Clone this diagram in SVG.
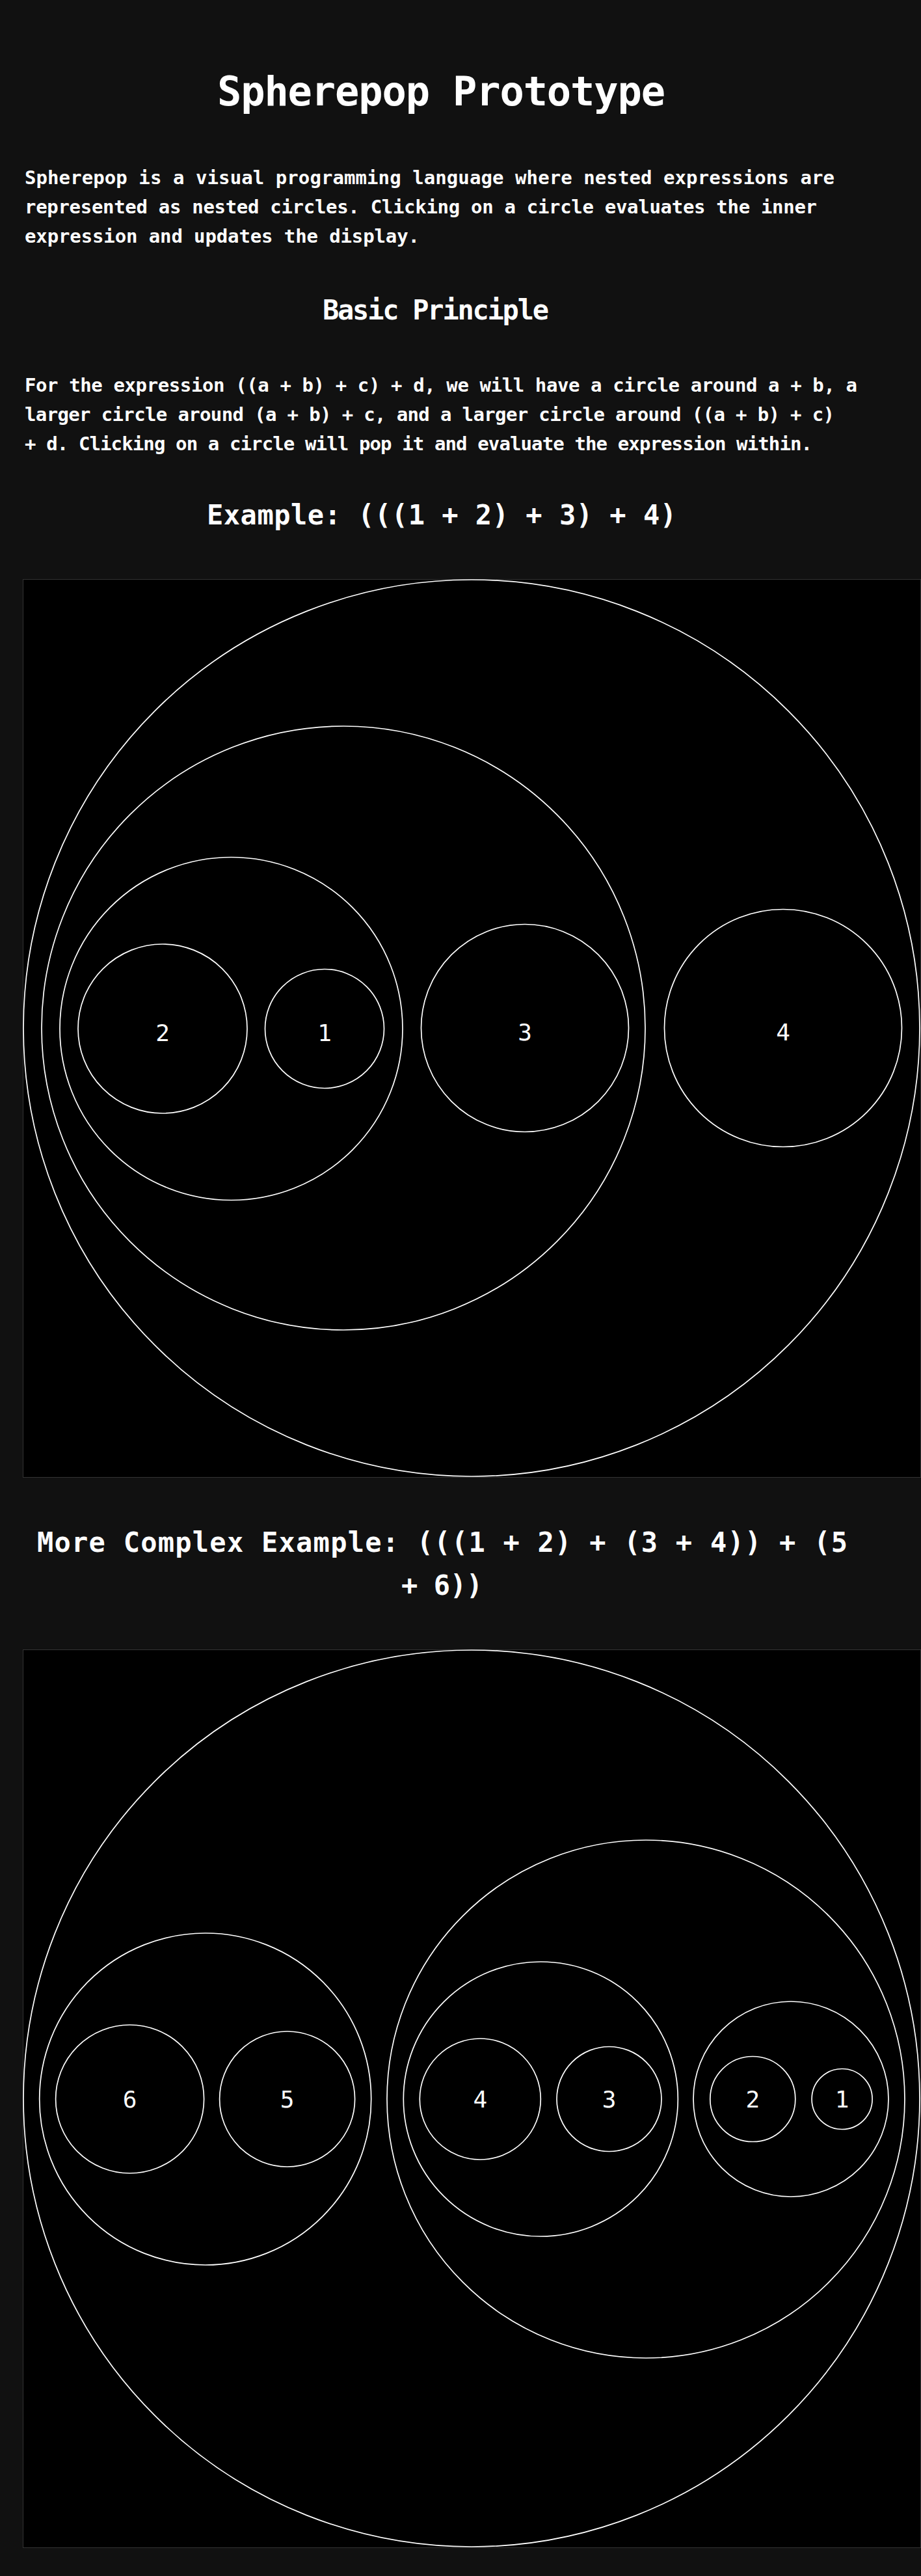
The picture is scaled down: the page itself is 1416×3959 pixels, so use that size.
<svg xmlns="http://www.w3.org/2000/svg" width="1416" height="3959" viewBox="0 0 1416 3959">
<style>
.t{font-family:"DejaVu Sans Mono","Liberation Mono",monospace;fill:#fff}
.h1{font-size:62px;font-weight:bold}
.h2{font-size:42px;font-weight:bold}
.p{font-size:29px;font-weight:bold}
.panel{fill:#000;stroke:#333;stroke-width:1}
.c{fill:none;stroke:#fff;stroke-width:1.7}
.lbl{font-family:"DejaVu Sans Mono","Liberation Mono",monospace;font-size:36px;fill:#fff;text-anchor:middle}
</style>
<rect x="0" y="0" width="1416" height="3959" fill="#111"/>
<g id="header">
<text class="t h1" x="334" y="162" textLength="689" lengthAdjust="spacing">Spherepop Prototype</text>
<text class="t p" x="38" y="283" textLength="1245" lengthAdjust="spacing">Spherepop is a visual programming language where nested expressions are</text>
<text class="t p" x="38" y="328" textLength="1218" lengthAdjust="spacing">represented as nested circles. Clicking on a circle evaluates the inner</text>
<text class="t p" x="38" y="373" textLength="607" lengthAdjust="spacing">expression and updates the display.</text>
<text class="t h2" x="496" y="491" textLength="348" lengthAdjust="spacing">Basic Principle</text>
<text class="t p" x="38" y="602" textLength="1280" lengthAdjust="spacing">For the expression ((a + b) + c) + d, we will have a circle around a + b, a</text>
<text class="t p" x="38" y="647" textLength="1245" lengthAdjust="spacing">larger circle around (a + b) + c, and a larger circle around ((a + b) + c)</text>
<text class="t p" x="38" y="692" textLength="1211" lengthAdjust="spacing">+ d. Clicking on a circle will pop it and evaluate the expression within.</text>
<text class="t h2" x="318" y="806" textLength="722" lengthAdjust="spacing">Example: (((1 + 2) + 3) + 4)</text>
</g>
<g id="example1">
<rect class="panel" x="35.5" y="890.5" width="1380" height="1380"/>
<g id="e1-outer"><circle class="c" cx="725" cy="1580" r="689"/></g>
<g id="e1-mid"><circle class="c" cx="528" cy="1580" r="464"/></g>
<g id="e1-inner"><circle class="c" cx="355.5" cy="1581" r="263.5"/></g>
<g id="e1-n2"><circle class="c" cx="250" cy="1581" r="130"/><text class="lbl" x="250" y="1600">2</text></g>
<g id="e1-n1"><circle class="c" cx="499" cy="1581" r="91.5"/><text class="lbl" x="499" y="1600">1</text></g>
<g id="e1-n3"><circle class="c" cx="807" cy="1580" r="159.5"/><text class="lbl" x="807" y="1599">3</text></g>
<g id="e1-n4"><circle class="c" cx="1204" cy="1580" r="182.5"/><text class="lbl" x="1204" y="1599">4</text></g>
</g>
<g id="heading2">
<text class="t h2" x="57" y="2385" textLength="1246" lengthAdjust="spacing">More Complex Example: (((1 + 2) + (3 + 4)) + (5</text>
<text class="t h2" x="617" y="2451" textLength="125" lengthAdjust="spacing">+ 6))</text>
</g>
<g id="example2">
<rect class="panel" x="35.5" y="2535.5" width="1380" height="1380"/>
<g id="e2-outer"><circle class="c" cx="725" cy="3225" r="689"/></g>
<g id="e2-left"><circle class="c" cx="315.7" cy="3226" r="255"/></g>
<g id="e2-n6"><circle class="c" cx="199.6" cy="3226" r="114"/><text class="lbl" x="199.6" y="3239">6</text></g>
<g id="e2-n5"><circle class="c" cx="441.6" cy="3226" r="104"/><text class="lbl" x="441.6" y="3239">5</text></g>
<g id="e2-right"><circle class="c" cx="993" cy="3226" r="398"/></g>
<g id="e2-g34"><circle class="c" cx="831.3" cy="3226" r="211"/></g>
<g id="e2-n4"><circle class="c" cx="738.3" cy="3226" r="93"/><text class="lbl" x="738.3" y="3239">4</text></g>
<g id="e2-n3"><circle class="c" cx="936.5" cy="3226" r="80.5"/><text class="lbl" x="936.5" y="3239">3</text></g>
<g id="e2-g12"><circle class="c" cx="1216" cy="3226" r="150"/></g>
<g id="e2-n2"><circle class="c" cx="1157.3" cy="3226" r="65.5"/><text class="lbl" x="1157.3" y="3239">2</text></g>
<g id="e2-n1"><circle class="c" cx="1294.6" cy="3226" r="46.5"/><text class="lbl" x="1294.6" y="3239">1</text></g>
</g>
<g id="connectors"/>
</svg>
